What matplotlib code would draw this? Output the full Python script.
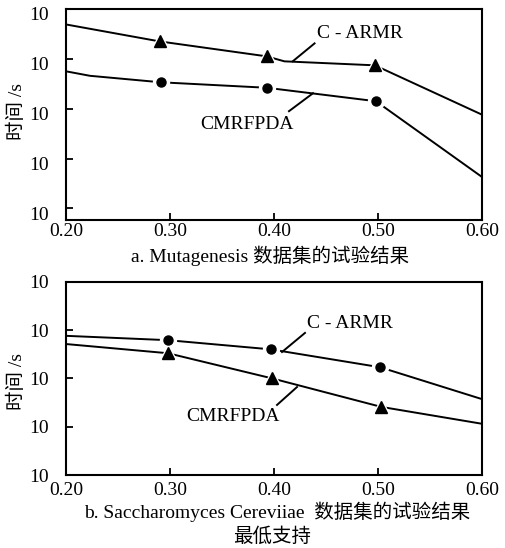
import matplotlib
matplotlib.use("Agg")
import matplotlib.pyplot as plt
import matplotlib.transforms as mtransforms
from matplotlib.ticker import FixedLocator, FixedFormatter, NullLocator

plt.rcParams['font.family'] = ['Liberation Serif', 'Noto Sans CJK SC']
plt.rcParams['axes.unicode_minus'] = False

# ---------------- data ----------------
# Panel a (Mutagenesis): y values given as powers of ten (log10 of time)
a_armr_x = [0.20, 0.29, 0.393, 0.41, 0.497, 0.60]
a_armr_e = [4.69, 4.35, 4.05, 3.95, 3.87, 2.88]
a_armr_mx = [0.29, 0.393, 0.497]
a_armr_me = [4.35, 4.05, 3.87]

a_cmr_x = [0.20, 0.223, 0.291, 0.393, 0.498, 0.60]
a_cmr_e = [3.75, 3.66, 3.53, 3.42, 3.15, 1.63]
a_cmr_mx = [0.291, 0.393, 0.498]
a_cmr_me = [3.53, 3.42, 3.15]

# Panel b (Saccharomyces Cereviiae)
b_armr_x = [0.20, 0.298, 0.397, 0.502, 0.60]
b_armr_e = [3.88, 3.79, 3.60, 3.23, 2.57]
b_cmr_x = [0.20, 0.298, 0.398, 0.503, 0.60]
b_cmr_e = [3.71, 3.52, 3.00, 2.41, 2.06]

x_ticks = [0.20, 0.30, 0.40, 0.50, 0.60]
x_ticklabels = ["0.20", "0.30", "0.40", "0.50", "0.60"]
y_ticks_exp = [1, 2, 3, 4, 5]
y_ticklabels = ["10", "10", "10", "10", "10"]

title_a = "a. Mutagenesis 数据集的试验结果"
title_b = "b. Saccharomyces Cereviiae  数据集的试验结果"
xlabel = "最低支持"
ylabel = "时间 /s"
name1 = "C - ARMR"
name2 = "CMRFPDA"

# annotation (text position, leader start, leader end) in data units (x, exponent)
a_lab1 = (0.483, 4.51); a_lead1 = ((0.439, 4.31), (0.418, 3.95))
a_lab2 = (0.374, 2.69); a_lead2 = ((0.4375, 3.31), (0.4144, 2.95))
b_lab1 = (0.473, 4.145); b_lead1 = ((0.4298, 3.94), (0.4077, 3.545))
b_lab2 = (0.3606, 2.22); b_lead2 = ((0.4221, 2.82), (0.4029, 2.45))

FS = 14

def p10(v):
    return [10 ** e for e in v]

fig = plt.figure(figsize=(5.05, 5.48), dpi=100)
ax1 = fig.add_axes([66/505, 1-220/548, 416/505, 211/548])
ax2 = fig.add_axes([66/505, 1-475/548, 416/505, 193.3/548])

def style(ax, ylo, xpad):
    ax.set_yscale('log')
    ax.set_xlim(0.2, 0.6)
    ax.set_ylim(10 ** ylo, 10 ** 5)
    ax.xaxis.set_major_locator(FixedLocator(x_ticks))
    ax.xaxis.set_major_formatter(FixedFormatter(x_ticklabels))
    ax.yaxis.set_major_locator(FixedLocator([10 ** e for e in y_ticks_exp]))
    ax.yaxis.set_major_formatter(FixedFormatter(y_ticklabels))
    ax.yaxis.set_minor_locator(NullLocator())
    ax.xaxis.set_minor_locator(NullLocator())
    ax.tick_params(direction='in', length=5, width=1.3, labelsize=FS)
    ax.tick_params(axis='x', pad=xpad)
    ax.tick_params(axis='y', pad=12)
    for s in ax.spines.values():
        s.set_linewidth(1.5)

def series(ax, xs, es, mx, me, marker, ms):
    ax.plot(xs, p10(es), color='black', lw=1.4, zorder=2)
    ax.plot(mx, p10(me), linestyle='none', marker=marker, ms=ms + 5,
            color='white', zorder=3)
    ax.plot(mx, p10(me), linestyle='none', marker=marker, ms=ms,
            color='black', zorder=4)

def label(ax, pos, lead, text):
    ax.text(pos[0], 10 ** pos[1], text, fontsize=FS, ha='center', va='center')
    (x0, e0), (x1, e1) = lead
    ax.plot([x0, x1], [10 ** e0, 10 ** e1], color='black', lw=1.4, zorder=2)

style(ax1, 0.767, 2)
series(ax1, a_armr_x, a_armr_e, a_armr_mx, a_armr_me, '^', 8)
series(ax1, a_cmr_x, a_cmr_e, a_cmr_mx, a_cmr_me, 'o', 6.5)
label(ax1, a_lab1, a_lead1, name1)
label(ax1, a_lab2, a_lead2, name2)
shift = mtransforms.ScaledTranslation(0, -0.05, fig.dpi_scale_trans)
for t in ax1.get_yticklabels():
    t.set_transform(t.get_transform() + shift)

style(ax2, 1.0, 5)
series(ax2, b_armr_x, b_armr_e, b_armr_x[1:4], b_armr_e[1:4], 'o', 6.5)
series(ax2, b_cmr_x, b_cmr_e, b_cmr_x[1:4], b_cmr_e[1:4], '^', 8)
label(ax2, b_lab1, b_lead1, name1)
label(ax2, b_lab2, b_lead2, name2)

fig.text(270/505, 1-256/548, title_a, fontsize=FS, ha='center', va='center')
fig.text(277/505, 1-512/548, title_b, fontsize=FS, ha='center', va='center')
fig.text(272/505, 1-537/548, xlabel, fontsize=FS, ha='center', va='center')
fig.text(17/505, 1-112/548, ylabel, fontsize=14, ha='center', va='center', rotation=90)
fig.text(17/505, 1-381/548, ylabel, fontsize=14, ha='center', va='center', rotation=90)

fig.savefig("out.png", dpi=100)
